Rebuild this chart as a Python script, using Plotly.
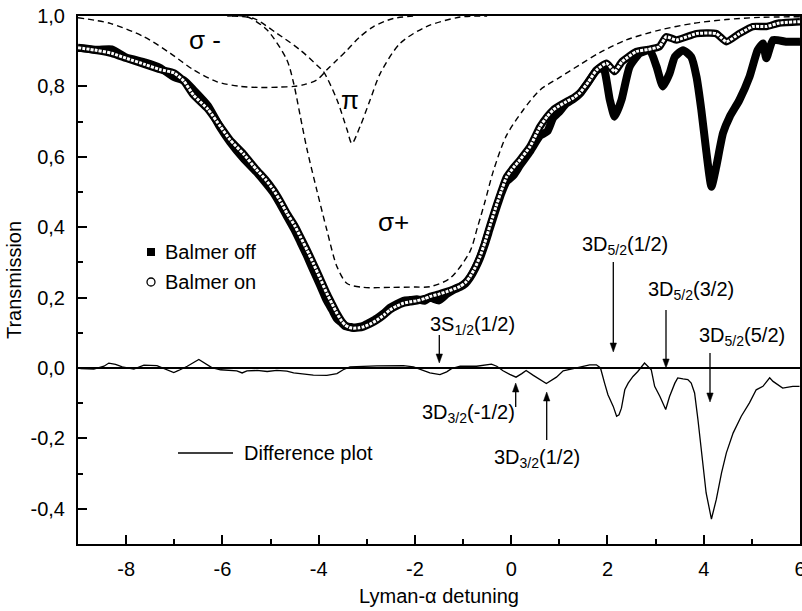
import plotly.graph_objects as go

# ---------------- data ----------------
balmer_on_x = [-9.0, -8.6, -8.3, -8.0, -7.6, -7.3, -7.0, -6.8, -6.6, -6.3, -6.04, -5.84, -5.56, -5.3,
               -5.1, -4.94, -4.8, -4.66, -4.5, -4.38, -4.24, -4.11, -3.97, -3.83, -3.72, -3.62, -3.52,
               -3.45, -3.36, -3.28, -3.17, -3.07, -2.93, -2.79, -2.65, -2.52, -2.38, -2.24, -2.1, -1.96,
               -1.8, -1.69, -1.5, -1.34, -1.2, -1.06, -0.95, -0.857, -0.75, -0.65, -0.55, -0.44, -0.3,
               -0.2, -0.095, 0.05, 0.18, 0.39, 0.6, 0.75, 0.87, 1.0, 1.15, 1.3, 1.43, 1.6, 1.77, 1.98,
               2.15, 2.3, 2.6, 2.85, 3.08, 3.22, 3.43, 3.85, 4.26, 4.47, 4.74, 5.02, 5.3, 5.57, 6.0]
balmer_on_y = [0.910, 0.902, 0.894, 0.880, 0.862, 0.848, 0.838, 0.815, 0.775, 0.735, 0.686, 0.648, 0.608,
               0.565, 0.535, 0.506, 0.475, 0.440, 0.405, 0.373, 0.335, 0.297, 0.255, 0.212, 0.182, 0.155,
               0.133, 0.122, 0.115, 0.113, 0.114, 0.117, 0.125, 0.136, 0.150, 0.165, 0.176, 0.184, 0.188,
               0.191, 0.197, 0.203, 0.210, 0.217, 0.224, 0.232, 0.243, 0.259, 0.285, 0.316, 0.355, 0.405,
               0.465, 0.505, 0.543, 0.570, 0.591, 0.629, 0.686, 0.715, 0.733, 0.745, 0.757, 0.768, 0.782,
               0.812, 0.846, 0.866, 0.842, 0.870, 0.899, 0.905, 0.913, 0.941, 0.932, 0.950, 0.950, 0.927,
               0.950, 0.970, 0.970, 0.980, 0.984]

balmer_off_x = [-9.0, -8.6, -8.3, -8.0, -7.6, -7.3, -7.0, -6.8, -6.6, -6.3, -6.04, -5.84, -5.56, -5.3,
                -5.1, -4.94, -4.8, -4.66, -4.5, -4.38, -4.24, -4.11, -3.97, -3.83, -3.72, -3.62, -3.52,
                -3.45, -3.36, -3.28, -3.17, -3.07, -2.93, -2.79, -2.65, -2.52, -2.38, -2.24, -2.1, -1.96,
                -1.8, -1.69, -1.5, -1.34, -1.2, -1.06, -0.95, -0.857, -0.75, -0.65, -0.55, -0.44, -0.3,
                -0.2, -0.095, 0.05, 0.18, 0.39, 0.6, 0.75, 0.87, 1.0, 1.15, 1.3, 1.43, 1.6, 1.77, 1.91,
                2.05, 2.15, 2.29, 2.46, 2.67, 2.88, 3.02, 3.15, 3.29, 3.4, 3.57, 3.74, 3.85, 3.95, 4.05,
                4.16, 4.26, 4.4, 4.54, 4.74, 4.95, 5.12, 5.23, 5.3, 5.44, 5.71, 6.0]
balmer_off_y = [0.910, 0.904, 0.905, 0.882, 0.868, 0.853, 0.826, 0.817, 0.790, 0.745, 0.682, 0.642, 0.595,
                0.558, 0.526, 0.498, 0.466, 0.431, 0.392, 0.358, 0.318, 0.277, 0.235, 0.191, 0.165, 0.140,
                0.128, 0.119, 0.117, 0.115, 0.117, 0.120, 0.130, 0.141, 0.155, 0.171, 0.182, 0.191, 0.193,
                0.195, 0.191, 0.200, 0.192, 0.210, 0.222, 0.230, 0.240, 0.256, 0.282, 0.312, 0.350, 0.398,
                0.458, 0.498, 0.530, 0.548, 0.575, 0.615, 0.660, 0.672, 0.710, 0.728, 0.752, 0.765, 0.780,
                0.812, 0.845, 0.856, 0.761, 0.714, 0.761, 0.856, 0.894, 0.903, 0.856, 0.800, 0.837, 0.884,
                0.903, 0.884, 0.827, 0.733, 0.619, 0.515, 0.572, 0.667, 0.714, 0.761, 0.827, 0.903, 0.922,
                0.880, 0.932, 0.927, 0.927]

diff_x = [-8.95, -8.67, -8.46, -8.36, -8.22, -8.08, -7.84, -7.63, -7.36, -7.22, -7.01, -6.91, -6.73,
          -6.49, -6.32, -6.22, -6.04, -5.70, -5.59, -5.49, -5.28, -5.07, -4.87, -4.66, -4.52, -4.32,
          -4.11, -3.83, -3.62, -3.49, -3.35, -2.79, -2.24, -2.03, -1.83, -1.69, -1.48, -1.34, -1.24,
          -1.06, -0.72, -0.41, -0.30, -0.17, -0.03, 0.10, 0.22, 0.31, 0.46, 0.73, 0.94, 1.08, 1.29,
          1.49, 1.63, 1.77, 1.855, 1.94, 2.01, 2.12, 2.19, 2.24, 2.29, 2.36, 2.43, 2.53, 2.63, 2.77,
          2.84, 2.91, 2.98, 3.09, 3.21, 3.29, 3.40, 3.46, 3.57, 3.67, 3.74, 3.81, 3.88, 3.95, 4.05,
          4.16, 4.26, 4.37, 4.47, 4.61, 4.78, 4.95, 5.09, 5.23, 5.37, 5.44, 5.64, 5.85, 5.99]
diff_y = [-0.002, -0.003, 0.005, 0.014, 0.010, 0.003, -0.003, 0.008, 0.007, -0.001, -0.013, -0.007,
          0.005, 0.024, 0.010, 0.001, -0.005, -0.008, -0.014, -0.008, -0.007, -0.010, -0.007, -0.009,
          -0.014, -0.017, -0.020, -0.021, -0.016, -0.005, 0.003, 0.006, 0.007, 0.003, -0.007, -0.014,
          -0.019, -0.011, -0.002, 0.005, 0.005, 0.011, 0.005, -0.008, -0.018, -0.026, -0.016, -0.007,
          -0.021, -0.044, -0.026, -0.008, -0.002, 0.005, 0.009, 0.009, 0.000, -0.043, -0.076, -0.109,
          -0.137, -0.133, -0.114, -0.062, -0.043, -0.024, -0.010, 0.014, 0.005, -0.005, -0.052, -0.081,
          -0.118, -0.081, -0.043, -0.028, -0.031, -0.033, -0.043, -0.071, -0.147, -0.241, -0.355,
          -0.429, -0.374, -0.298, -0.241, -0.185, -0.137, -0.099, -0.062, -0.052, -0.028, -0.038,
          -0.057, -0.052, -0.052]

sigma_minus_x = [-9.0, -8.33, -7.63, -7.08, -6.6, -6.11, -5.63, -5.21, -4.8, -4.52, -4.3, -4.04, -3.83,
                 -3.62, -3.41, -3.15, -2.86, -2.45, -2.0]
sigma_minus_y = [0.995, 0.979, 0.941, 0.894, 0.847, 0.813, 0.800, 0.797, 0.798, 0.800, 0.805, 0.818,
                 0.847, 0.875, 0.903, 0.940, 0.970, 0.993, 1.0]

pi_x = [-5.8, -5.35, -4.87, -4.38, -4.04, -3.9, -3.62, -3.41, -3.31, -3.14, -2.93, -2.72, -2.31,
        -1.76, -1.06, -0.5]
pi_y = [1.0, 0.993, 0.951, 0.903, 0.861, 0.842, 0.762, 0.677, 0.638, 0.686, 0.762, 0.837, 0.922,
        0.970, 0.997, 1.0]

sigma_plus_x = [-5.9, -5.49, -5.07, -4.66, -4.52, -4.38, -4.24, -4.04, -3.83, -3.62, -3.41, -3.07,
                -2.5, -2.0, -1.69, -1.27, -0.86, -0.7, -0.55, -0.37, -0.1, 0.25, 0.6, 1.0, 1.43, 1.84,
                2.39, 3.08, 3.78, 4.47, 5.16, 6.0]
sigma_plus_y = [1.0, 0.998, 0.96, 0.875, 0.809, 0.714, 0.62, 0.506, 0.392, 0.288, 0.240, 0.229, 0.229,
                0.230, 0.231, 0.255, 0.33, 0.40, 0.47, 0.56, 0.66, 0.733, 0.79, 0.825, 0.862, 0.896,
                0.932, 0.960, 0.979, 0.990, 0.996, 0.998]

x_tick_vals = [-8, -6, -4, -2, 0, 2, 4, 6]
x_tick_text = ["-8", "-6", "-4", "-2", "0", "2", "4", "6"]
y_tick_vals = [-0.4, -0.2, 0.0, 0.2, 0.4, 0.6, 0.8, 1.0]
y_tick_text = ["-0,4", "-0,2", "0,0", "0,2", "0,4", "0,6", "0,8", "1,0"]

# ---------------- figure ----------------
FONT = "Liberation Sans, Arial, Helvetica, sans-serif"
FS = 20
W, H = 802, 611
L, R, T, B = 78, 2, 16, 67
X0, X1, Y0, Y1 = -9.0, 6.0, -0.5, 1.0


def X(px):
    return X0 + (px - L) / (W - L - R) * (X1 - X0)


def Y(py):
    return Y1 - (py - T) / (H - T - B) * (Y1 - Y0)


def PX(px):
    return (px - L) / (W - L - R)


def PY(py):
    return (H - B - py) / (H - T - B)


fig = go.Figure()

dash = "6px,4px"
for xs, ys in [(sigma_minus_x, sigma_minus_y), (pi_x, pi_y), (sigma_plus_x, sigma_plus_y)]:
    fig.add_trace(go.Scatter(x=xs, y=ys, mode="lines", line=dict(color="black", width=1.4, dash=dash,
                                                                     shape="spline", smoothing=0.8),
                             showlegend=False, hoverinfo="skip"))

fig.add_trace(go.Scatter(x=diff_x, y=diff_y, mode="lines", line=dict(color="black", width=1.3),
                         showlegend=False, name="Difference plot"))

fig.add_trace(go.Scatter(x=balmer_off_x, y=balmer_off_y, mode="lines",
                         line=dict(color="black", width=8, shape="spline", smoothing=0.5),
                         showlegend=False, name="Balmer off"))
fig.add_trace(go.Scatter(x=balmer_on_x, y=balmer_on_y, mode="lines",
                         line=dict(color="black", width=7.5, shape="spline", smoothing=0.5),
                         showlegend=False, name="Balmer on"))
fig.add_trace(go.Scatter(x=balmer_on_x, y=balmer_on_y, mode="lines",
                         line=dict(color="white", width=3, dash="3px,1.2px", shape="spline", smoothing=0.5),
                         showlegend=False, hoverinfo="skip"))

annotations = []
shapes = []

# legend
shapes.append(dict(type="rect", xref="paper", yref="paper", x0=PX(147), x1=PX(155), y0=PY(256), y1=PY(248),
                   fillcolor="black", line=dict(color="black", width=0)))
shapes.append(dict(type="circle", xref="paper", yref="paper", x0=PX(147), x1=PX(155), y0=PY(286), y1=PY(278),
                   fillcolor="white", line=dict(color="black", width=1.3)))
shapes.append(dict(type="line", xref="paper", yref="paper", x0=PX(178), x1=PX(233), y0=PY(453), y1=PY(453),
                   line=dict(color="black", width=1.3)))
for txt, px, py in [("Balmer off", 163, 252), ("Balmer on", 163, 282), ("Difference plot", 242, 453)]:
    annotations.append(dict(text=txt, xref="paper", yref="paper", x=PX(px), y=PY(py), xanchor="left",
                            yanchor="middle", showarrow=False, font=dict(size=FS, family=FONT, color="black")))

# sigma / pi labels
for txt, px, py in [("σ -", 205, 40), ("π", 350, 100), ("σ+", 393, 222)]:
    annotations.append(dict(text=txt, x=X(px), y=Y(py), xanchor="center", yanchor="middle", showarrow=False,
                            font=dict(size=26, family=FONT, color="black")))

# transition labels
for txt, px, py in [("3S<sub>1/2</sub>(1/2)", 472, 325), ("3D<sub>3/2</sub>(-1/2)", 468, 413),
                    ("3D<sub>3/2</sub>(1/2)", 537, 458), ("3D<sub>5/2</sub>(1/2)", 625, 245),
                    ("3D<sub>5/2</sub>(3/2)", 691, 290), ("3D<sub>5/2</sub>(5/2)", 742, 336)]:
    annotations.append(dict(text=txt, x=X(px), y=Y(py), xanchor="center", yanchor="middle", showarrow=False,
                            font=dict(size=FS, family=FONT, color="black")))

# arrows drawn as shapes: (x pixel, tail y pixel, head y pixel)
HL, HW = 9, 3.2
for px, ty, hy in [(439.3, 335, 363), (515.7, 407, 383), (546.7, 440, 392), (613.3, 262, 352),
                   (666, 310, 368), (710, 353, 402)]:
    d = 1 if hy > ty else -1
    shapes.append(dict(type="line", xref="x", yref="y", x0=X(px), x1=X(px), y0=Y(ty), y1=Y(hy - d * HL * 0.6),
                       line=dict(color="black", width=1.3)))
    path = "M {:.4f},{:.4f} L {:.4f},{:.4f} L {:.4f},{:.4f} Z".format(
        X(px - HW), Y(hy - d * HL), X(px + HW), Y(hy - d * HL), X(px), Y(hy))
    shapes.append(dict(type="path", xref="x", yref="y", path=path, fillcolor="black",
                       line=dict(color="black", width=0.5)))

axis_common = dict(showline=True, linecolor="black", linewidth=2, mirror=True, ticks="inside",
                   ticklen=9, tickwidth=1.5, tickcolor="black", showgrid=False, automargin=False,
                   ticklabeloverflow="allow",
                   tickfont=dict(size=FS, family=FONT, color="black"))

fig.update_layout(
    template="none",
    width=W, height=H, margin=dict(l=L, r=R, t=T, b=B), plot_bgcolor="white", paper_bgcolor="white",
    showlegend=False,
    xaxis=dict(axis_common, range=[X0, X1], tickvals=x_tick_vals, ticktext=x_tick_text, zeroline=False,
               ticklabelstandoff=6,
               minor=dict(ticks="inside", ticklen=5, tickwidth=1.5, tickcolor="black", dtick=1),
               title=dict(text="Lyman-α detuning", font=dict(size=FS, family=FONT, color="black"), standoff=10)),
    yaxis=dict(axis_common, range=[Y0, Y1], tickvals=y_tick_vals, ticktext=y_tick_text, zeroline=True,
               zerolinecolor="black", zerolinewidth=2.2, ticklabelstandoff=7,
               minor=dict(ticks="inside", ticklen=5, tickwidth=1.5, tickcolor="black", dtick=0.1),
               title=dict(text="Transmission", font=dict(size=FS, family=FONT, color="black"), standoff=4)),
    annotations=annotations, shapes=shapes,
)

fig.write_html("out.html", config={"displayModeBar": False},
               post_script="document.body.style.margin='0px';document.body.style.padding='0px';")
